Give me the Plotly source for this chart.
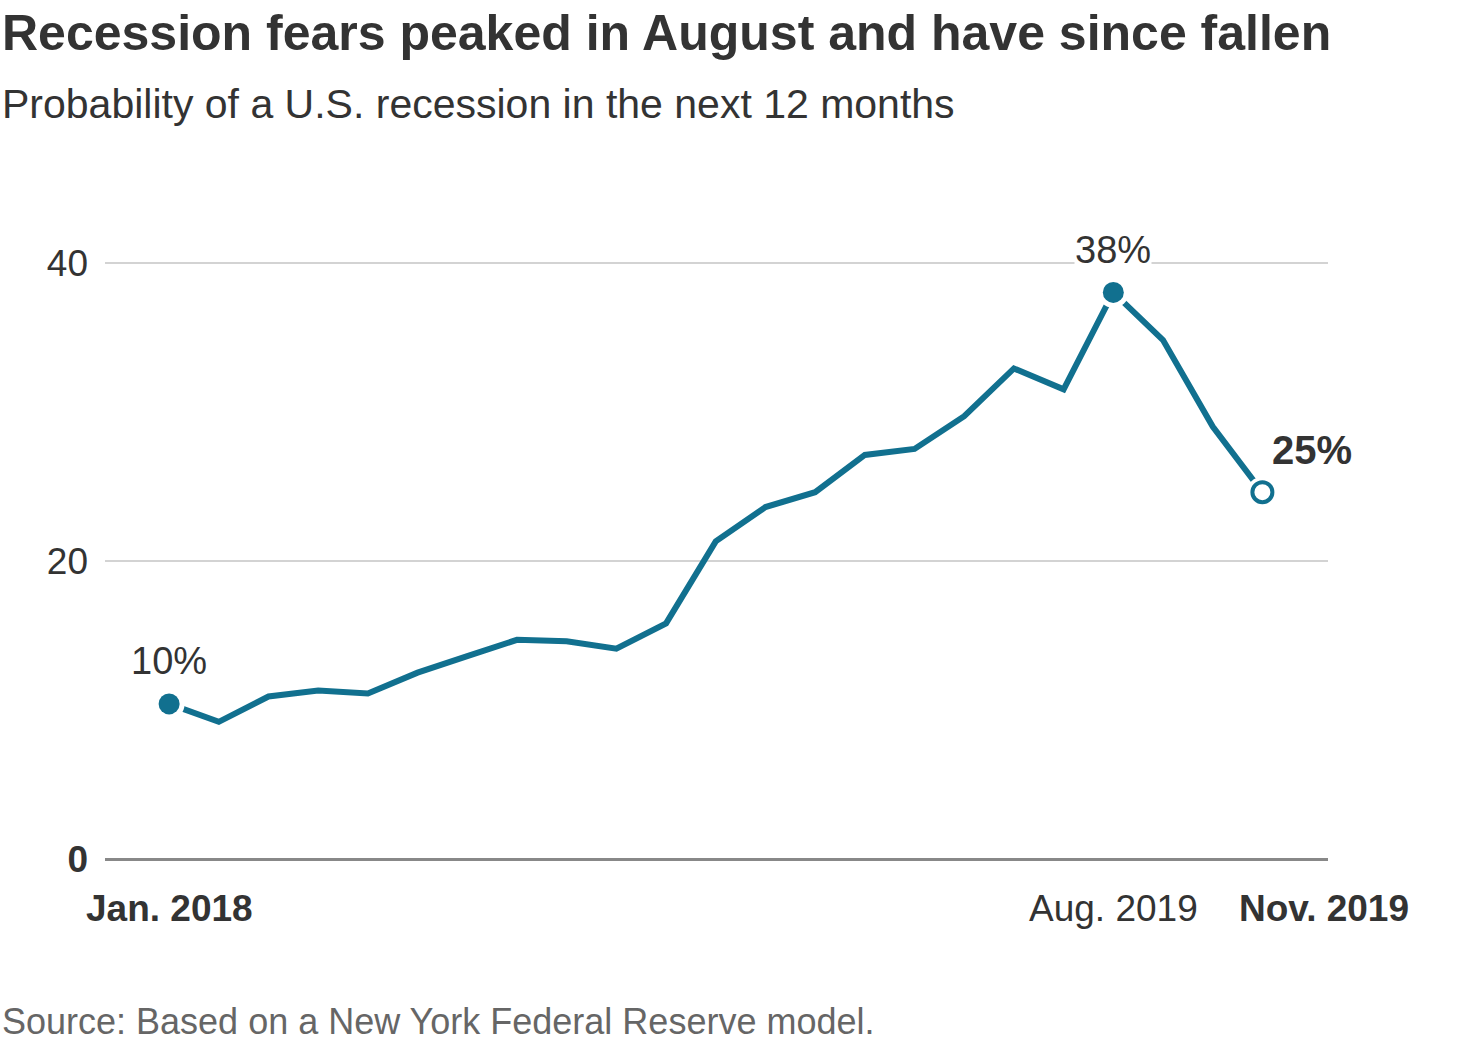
import plotly.graph_objects as go

months = ["Jan. 2018", "Feb. 2018", "Mar. 2018", "Apr. 2018", "May 2018", "Jun. 2018",
          "Jul. 2018", "Aug. 2018", "Sep. 2018", "Oct. 2018", "Nov. 2018", "Dec. 2018",
          "Jan. 2019", "Feb. 2019", "Mar. 2019", "Apr. 2019", "May 2019", "Jun. 2019",
          "Jul. 2019", "Aug. 2019", "Sep. 2019", "Oct. 2019", "Nov. 2019"]
probability = [10.4, 9.2, 10.9, 11.3, 11.1, 12.5, 13.6, 14.7, 14.6, 14.1, 15.8, 21.3,
               23.6, 24.6, 27.1, 27.5, 29.7, 32.9, 31.5, 38.0, 34.8, 29.0, 24.6]
highlight_idx = [0, 19]
end_idx = 22
point_labels = {0: "10%", 19: "38%", 22: "<b>25%</b>"}
x_labels = {0: "<b>Jan. 2018</b>", 19: "Aug. 2019", 22: "<b>Nov. 2019</b>"}
y_ticks = [0, 20, 40]
y_ticktext = ["<b>0</b>", "20", "40"]

LINE = "#11708f"
TXT = "#333333"
FONT = "Liberation Sans, Arial, sans-serif"

fig = go.Figure()
fig.add_trace(go.Scatter(x=months, y=probability, mode="lines",
                         line=dict(color=LINE, width=6), hoverinfo="skip"))
# white halo behind highlighted markers
hx = [months[i] for i in highlight_idx] + [months[end_idx]]
hy = [probability[i] for i in highlight_idx] + [probability[end_idx]]
fig.add_trace(go.Scatter(x=hx, y=hy, mode="markers",
                         marker=dict(color="white", size=31), hoverinfo="skip"))
fig.add_trace(go.Scatter(x=[months[i] for i in highlight_idx],
                         y=[probability[i] for i in highlight_idx], mode="markers",
                         marker=dict(color=LINE, size=21)))
fig.add_trace(go.Scatter(x=[months[end_idx]], y=[probability[end_idx]], mode="markers",
                         marker=dict(color="white", size=20, line=dict(color=LINE, width=4))))

fig.add_annotation(x=0, y=probability[0], text=point_labels[0], showarrow=False,
                   yshift=43, font=dict(family=FONT, size=38, color=TXT))
fig.add_annotation(x=19, y=probability[19], text=point_labels[19], showarrow=False,
                   yshift=42, font=dict(family=FONT, size=38, color=TXT),
                   bgcolor="white", borderpad=0)
fig.add_annotation(x=22, y=probability[22], text=point_labels[22], showarrow=False,
                   xshift=50, yshift=42, font=dict(family=FONT, size=40, color=TXT))

for i, t in x_labels.items():
    fig.add_annotation(x=i, y=0, text=t, showarrow=False, yanchor="top",
                       xshift=62 if i == end_idx else 0, yshift=-27,
                       font=dict(family=FONT, size=37, color=TXT))

fig.add_annotation(xref="paper", yref="paper", x=-105/1223, y=1, xanchor="left", yanchor="top",
                   text="<b>Recession fears peaked in August and have since fallen</b>",
                   showarrow=False, yshift=185, font=dict(family=FONT, size=50, color=TXT))
fig.add_annotation(xref="paper", yref="paper", x=-105/1223, y=1, xanchor="left", yanchor="top",
                   text="Probability of a U.S. recession in the next 12 months",
                   showarrow=False, yshift=109, font=dict(family=FONT, size=41, color=TXT))
fig.add_annotation(xref="paper", yref="paper", x=-105/1223, y=0, xanchor="left", yanchor="top",
                   text="Source: Based on a New York Federal Reserve model.",
                   showarrow=False, yshift=-140, font=dict(family=FONT, size=36, color="#666666"))

fig.update_layout(
    width=1474, height=1061,
    margin=dict(l=105, r=146, t=188, b=202),
    plot_bgcolor="white", paper_bgcolor="white",
    showlegend=False,
    xaxis=dict(type="category", range=[-1.29, 23.32], showgrid=False, showticklabels=False,
               zeroline=False, showline=False, ticks=""),
    yaxis=dict(range=[0, 45], tickvals=y_ticks, ticktext=y_ticktext, showgrid=True,
               gridcolor="#d3d3d3", gridwidth=2, zeroline=True, zerolinecolor="#888888",
               zerolinewidth=2.5, showline=False, ticks="", ticklabelstandoff=16,
               tickfont=dict(family=FONT, size=37, color=TXT)),
)
fig.write_html("out.html")
